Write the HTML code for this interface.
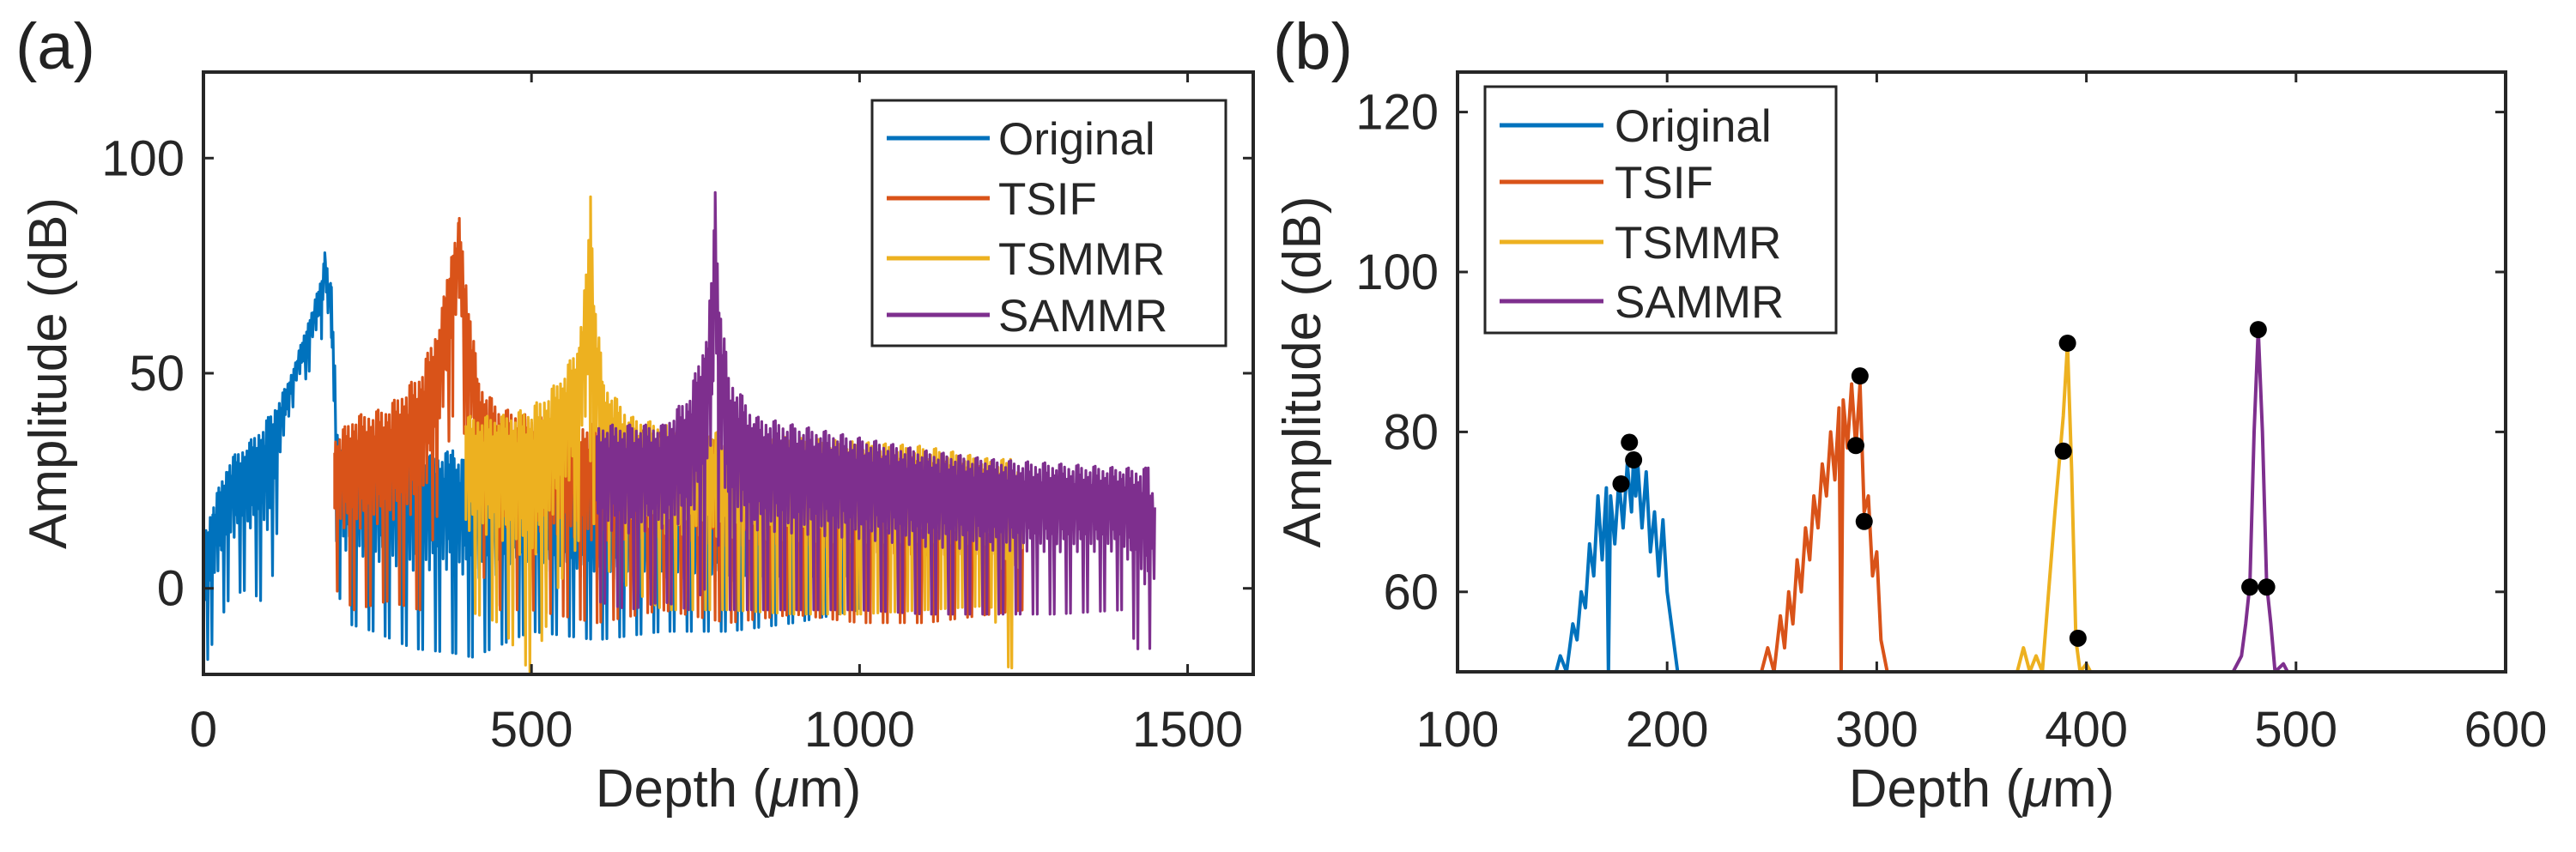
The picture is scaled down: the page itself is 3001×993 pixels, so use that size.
<!DOCTYPE html>
<html><head><meta charset="utf-8"><style>
html,body{margin:0;padding:0;background:#fff;}
svg{display:block;font-family:"Liberation Sans",sans-serif;}
</style></head><body>
<svg id="fig" width="3001" height="993" viewBox="0 0 3001 993" xmlns="http://www.w3.org/2000/svg">
<rect width="3001" height="993" fill="#fff"/>
<text x="18" y="80" font-size="76" fill="#222">(a)</text>
<text x="1483" y="80" font-size="76" fill="#222">(b)</text>
<g id="pa"></g>
<g id="pb"></g>
</svg>
<script>
// ---- Panel (a) data: envelopes (depth um, upper/lower dB) ----
const aBlueX = [0,15,40,70,100,130,160,180,185,195,205,215,260,320,380,410,500,600,700,800,900,1000];
const aBlueUp = [12,20,30,34,40,48,62,72,78,70,36,33,30,30,32,28,25,22,20,18,15,12];
const aBlueLo = [-20,-12,-2,0,-5,40,50,58,60,50,0,-8,-10,-14,-15,-16,-10,-12,-10,-10,-8,-5];
const aOrX = [200,230,280,330,360,380,390,400,420,450,500,600,700,800,900,1000,1100,1200,1250];
const aOrUp = [35,40,42,50,62,80,86,72,48,42,40,38,36,35,34,32,30,28,25];
const aOrLo = [0,-5,-3,-5,20,40,55,30,5,-5,-5,-8,-5,-8,-6,-8,-8,-6,-5];
const aYeX = [400,450,500,540,570,585,590,595,610,650,700,800,900,1000,1100,1200,1230,1250];
const aYeUp = [40,40,42,48,56,75,91,70,48,40,38,36,35,34,33,30,30,25];
const aYeLo = [-5,-8,-20,0,10,20,30,15,5,0,-5,-5,-6,-6,-5,-4,-20,-5];
const aPuX = [600,650,700,740,765,775,780,785,800,840,900,1000,1100,1200,1300,1400,1440,1450];
const aPuUp = [38,38,38,45,58,72,92,70,50,40,38,35,32,30,29,28,28,20];
const aPuLo = [-3,-5,-3,-5,0,10,30,10,-5,-5,-5,-5,-6,-6,-6,-5,-20,5];
const noisePattern = [1.0,0.35,0.9,0.25,0.97,0.45,0.08,0.85,0.3,0.95,0.5,0.02,0.88,0.4,0.93,0.2,0.8,0.55,0.99,0.12];
const aTicksX = [0,500,1000,1500];
const aTicksY = [0,50,100];
// ---- Panel (b) data ----
const bBlue = [[147,50],[149,52],[152,50],[155,56],[157,54],[159,60],[161,58],[163,66],[165,62],[167,72],[169,64],[171,73],[172,50],[173,72],[175,66],[177,74],[179,68],[181,76],[183,70],[184,77],[185,72],[186,76],[188,68],[190,75],[192,65],[194,70],[196,62],[198,69],[200,60],[202,56],[205,50]];
const bOrange = [[245,50],[248,53],[251,50],[254,57],[256,53],[258,60],[260,56],[262,64],[264,60],[266,68],[268,64],[270,72],[272,68],[274,76],[276,72],[278,80],[280,74],[282,83],[283,50],[284,84],[286,78],[288,86],[290,78],[292,86],[294,70],[296,72],[298,62],[300,65],[302,54],[305,50]];
const bYellow = [[367,50],[370,53],[373,50],[376,52],[379,50],[382,60],[385,70],[389,82],[391,91],[393,75],[395,54],[397,50],[400,51],[402,50]];
const bPurple = [[470,50],[474,52],[476,56],[478,61],[480,80],[482,92.8],[484,80],[486,61],[488,56],[490,50],[494,51],[496,50]];
const bPeaksBlue = [[178,73.5],[182,78.7],[184,76.5]];
const bPeaksOrange = [[290,78.3],[292,87],[294,68.8]];
const bPeaksYellow = [[389,77.6],[391,91.1],[396,54.2]];
const bPeaksPurple = [[478,60.6],[482,92.8],[486,60.6]];
const bTicksX = [100,200,300,400,500,600];
const bTicksY = [60,80,100,120];
const seriesNames = ["Original","TSIF","TSMMR","SAMMR"];
const colors = ["#0072BD","#D95319","#EDB120","#7E2F8E"];

const NS="http://www.w3.org/2000/svg";
function mk(tag,attrs,parent){const e=document.createElementNS(NS,tag);for(const k in attrs)e.setAttribute(k,attrs[k]);parent.appendChild(e);return e;}
function interp(xs,ys,x){if(x<=xs[0])return ys[0];for(let i=1;i<xs.length;i++){if(x<=xs[i]){const t=(x-xs[i-1])/(xs[i]-xs[i-1]);return ys[i-1]+t*(ys[i]-ys[i-1]);}}return ys[ys.length-1];}

function axes(g,L,R,T,B,xmin,xmax,ymin,ymax,tx,ty,id){
  const sx=v=>L+(v-xmin)/(xmax-xmin)*(R-L), sy=v=>B-(v-ymin)/(ymax-ymin)*(B-T);
  return {sx,sy,draw(){
    let f=mk('rect',{x:L,y:T,width:R-L,height:B-T,fill:'none',stroke:'#262626','stroke-width':4},g);
    
    
    tx.forEach(v=>{const x=sx(v);
      mk('line',{x1:x,x2:x,y1:B,y2:B-12,stroke:'#262626','stroke-width':3},g);
      mk('line',{x1:x,x2:x,y1:T,y2:T+12,stroke:'#262626','stroke-width':3},g);
      const t=mk('text',{x:x,y:870,'font-size':58,'text-anchor':'middle',fill:'#262626'},g);t.textContent=v;
      
      });
    ty.forEach(v=>{const y=sy(v);
      mk('line',{x1:L,x2:L+12,y1:y,y2:y,stroke:'#262626','stroke-width':3},g);
      mk('line',{x1:R,x2:R-12,y1:y,y2:y,stroke:'#262626','stroke-width':3},g);
      const t=mk('text',{x:L-22,y:y+20,'font-size':58,'text-anchor':'end',fill:'#262626'},g);t.textContent=v;
      
      });
    const xl=mk('text',{x:(L+R)/2,y:940,'font-size':62,'text-anchor':'middle',fill:'#262626'},g);
    xl.innerHTML='Depth (<tspan font-style="italic">μ</tspan>m)';
    
    
    const yx = L-160;
    const yl=mk('text',{x:yx,y:(T+B)/2,'font-size':62,'text-anchor':'middle',fill:'#262626',transform:`rotate(-90 ${yx} ${(T+B)/2})`},g);
    yl.textContent='Amplitude (dB)';
    
    
  }};
}
function legend(g,x0,y0,x1,y1,rows,lx0,lx1,tx,id){
  const r=mk('rect',{x:x0,y:y0,width:x1-x0,height:y1-y0,fill:'#fff',stroke:'#262626','stroke-width':3},g);
  
  
  seriesNames.forEach((n,i)=>{
    mk('line',{x1:lx0,x2:lx1,y1:rows[i],y2:rows[i],stroke:colors[i],'stroke-width':5},g);
    const t=mk('text',{x:tx,y:rows[i]+19,'font-size':53,fill:'#262626'},g);t.textContent=n;
    
    
  });
}

// Panel (a)
const ga=document.getElementById('pa');
const A=axes(ga,237,1460,84,786,0,1600,-20,120,aTicksX,aTicksY,'panel-a');
const clipA=mk('clipPath',{id:'ca'},ga);mk('rect',{x:237,y:84,width:1223,height:702},clipA);
const gaData=mk('g',{'clip-path':'url(#ca)'},ga);
[[aBlueX,aBlueUp,aBlueLo],[aOrX,aOrUp,aOrLo],[aYeX,aYeUp,aYeLo],[aPuX,aPuUp,aPuLo]].forEach((s,si)=>{
  const [xs,up,lo]=s; let d=''; let k=si*7;
  // sample positions: dense grid plus the knot positions (so peaks are hit)
  const pos=[];
  for(let x=xs[0];x<=xs[xs.length-1];x+=1.3) pos.push(x);
  xs.forEach(x=>pos.push(x));
  pos.sort((a,b)=>a-b);
  const peakSet=new Set(xs.filter((x,i)=>i>0&&i<xs.length-1&&up[i]>=up[i-1]&&up[i]>=up[i+1]));
  pos.forEach(x=>{
    const u=interp(xs,up,x), l=interp(xs,lo,x);
    const f=noisePattern[k%noisePattern.length]; k++;
    let v;
    if(peakSet.has(x)) v=u;
    else if(f<0.1) v=l;
    else { const base=l+(u-l)*0.4; v=base+(u-base)*(f-0.1)/0.9; }
    d+=(d?'L':'M')+A.sx(x).toFixed(1)+','+A.sy(v).toFixed(1);
  });
  const p=mk('path',{d,fill:'none',stroke:colors[si],'stroke-width':3.2,'stroke-linejoin':'round'},gaData);
  
  
});
A.draw();
legend(ga,1016,117,1428,403,[161,231,301,367],1033,1153,1163,'panel-a');

// Panel (b)
const gb=document.getElementById('pb');
const Bx=axes(gb,1698,2919,84,783,100,600,50,125,bTicksX,bTicksY,'panel-b');
const clipB=mk('clipPath',{id:'cb'},gb);mk('rect',{x:1698,y:84,width:1221,height:699},clipB);
const gbData=mk('g',{'clip-path':'url(#cb)'},gb);
[bBlue,bOrange,bYellow,bPurple].forEach((s,si)=>{
  const d=s.map((p,i)=>(i?'L':'M')+Bx.sx(p[0]).toFixed(1)+','+Bx.sy(p[1]).toFixed(1)).join('');
  const p=mk('path',{d,fill:'none',stroke:colors[si],'stroke-width':4,'stroke-linejoin':'round'},gbData);
  
  
});
[bPeaksBlue,bPeaksOrange,bPeaksYellow,bPeaksPurple].forEach((s,si)=>{
  s.forEach(pt=>{
    const c=mk('circle',{cx:Bx.sx(pt[0]),cy:Bx.sy(pt[1]),r:10,fill:'#000'},gb);
    
    
  });
});
Bx.draw();
legend(gb,1730,101,2139,388,[146,212,282,351],1747,1868,1881,'panel-b');
</script>
</body></html>
